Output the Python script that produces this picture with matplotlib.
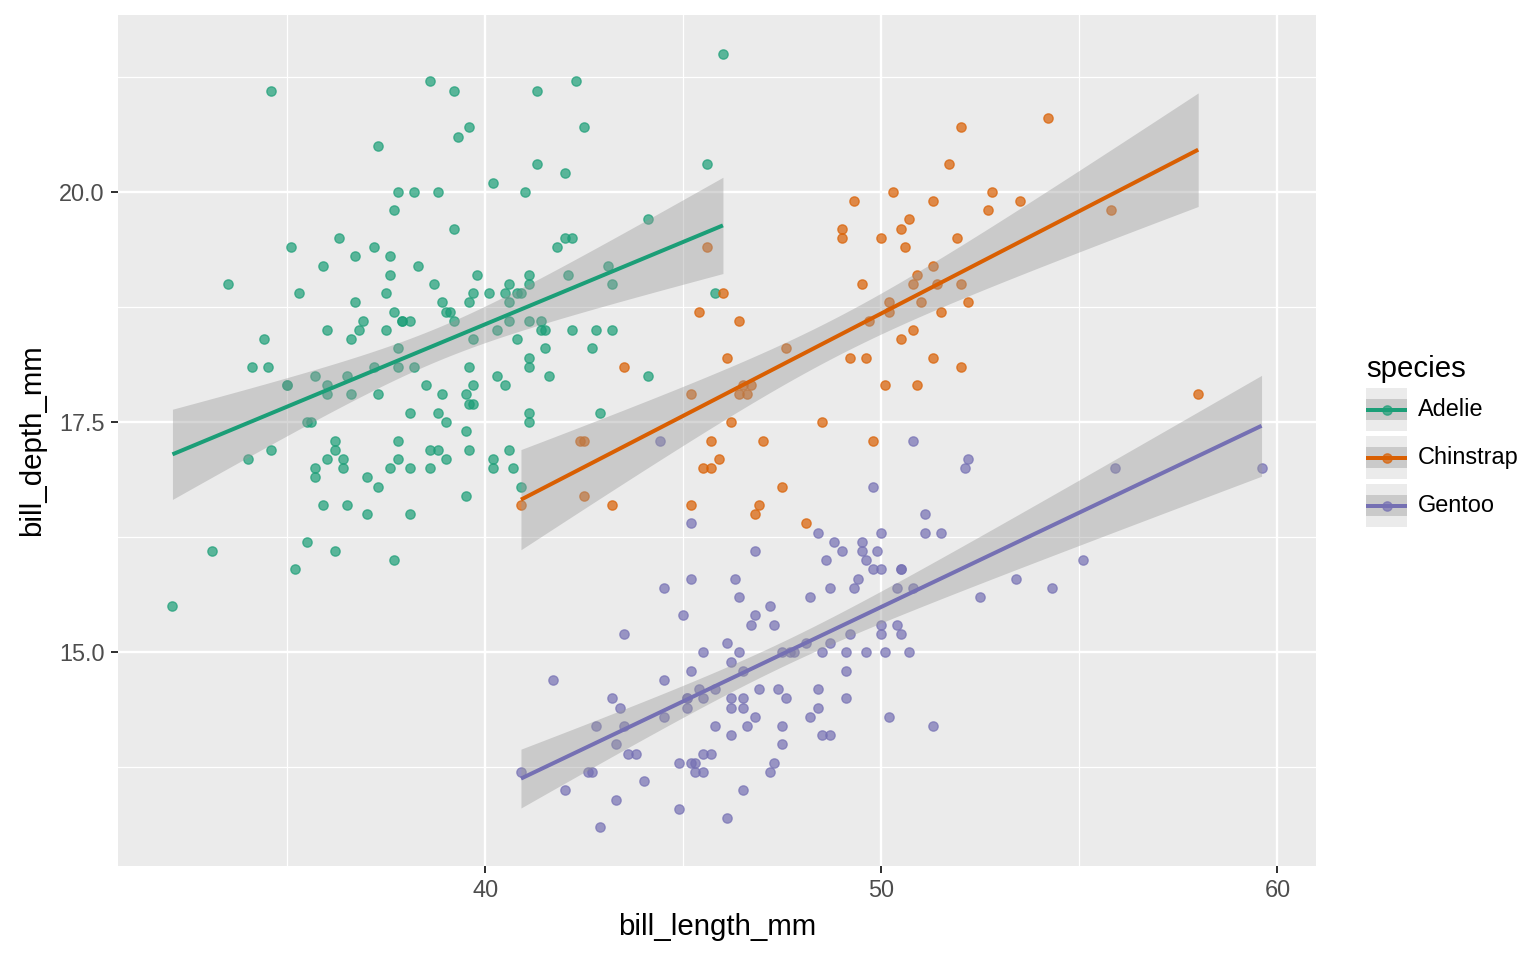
import numpy as np
import matplotlib
matplotlib.use("Agg")
import matplotlib.pyplot as plt
from matplotlib.patches import Rectangle
from matplotlib.lines import Line2D

plt.rcParams['font.family'] = ['Liberation Sans', 'DejaVu Sans']

species = ["Adelie", "Chinstrap", "Gentoo"]
colors = ["#1B9E77", "#D95F02", "#7570B3"]

adelie_len = [39.1,39.5,40.3,36.7,39.3,38.9,39.2,34.1,42.0,37.8,37.8,41.1,38.6,34.6,36.6,38.7,42.5,34.4,46.0,
              37.8,37.7,35.9,38.2,38.8,35.3,40.6,40.5,37.9,40.5,39.5,37.2,39.5,40.9,36.4,39.2,38.8,42.2,37.6,
              39.8,36.5,40.8,36.0,44.1,37.0,39.6,41.1,37.5,36.0,42.3,39.6,40.1,35.0,42.0,34.5,41.4,39.0,40.6,
              36.5,37.6,35.7,41.3,37.6,41.1,36.4,41.6,35.5,41.1,35.9,41.8,33.5,39.7,39.6,45.8,35.5,42.8,40.9,
              37.2,36.2,42.1,34.6,42.9,36.7,35.1,37.3,41.3,36.3,36.9,38.3,38.9,35.7,41.1,34.0,39.6,36.2,40.8,
              38.1,40.3,33.1,43.2,35.0,41.0,37.7,37.8,37.9,39.7,38.6,38.2,38.1,43.2,38.1,45.6,39.7,42.2,39.6,
              42.7,38.6,37.3,35.7,41.1,36.2,37.7,40.2,41.4,35.2,40.6,38.8,41.5,39.0,44.1,38.5,43.1,36.8,37.5,
              38.1,41.1,35.6,40.2,37.0,39.7,40.2,40.6,32.1,40.7,37.3,39.0,39.2,36.6,36.0,37.8,36.0,41.5]
adelie_dep = [18.7,17.4,18.0,19.3,20.6,17.8,19.6,18.1,20.2,17.1,17.3,17.6,21.2,21.1,17.8,19.0,20.7,18.4,21.5,
              18.3,18.7,19.2,18.1,17.2,18.9,18.6,17.9,18.6,18.9,16.7,18.1,17.8,18.9,17.0,21.1,20.0,18.5,19.3,
              19.1,18.0,18.4,18.5,19.7,16.9,18.8,19.0,18.9,17.9,21.2,17.7,18.9,17.9,19.5,18.1,18.6,17.5,18.8,
              16.6,19.1,16.9,21.1,17.0,18.2,17.1,18.0,16.2,19.1,16.6,19.4,19.0,18.4,17.2,18.9,17.5,18.5,16.8,
              19.4,16.1,19.1,17.2,17.6,18.8,19.4,17.8,20.3,19.5,18.6,19.2,18.8,18.0,18.1,17.1,18.1,17.3,18.9,
              18.6,18.5,16.1,18.5,17.9,20.0,16.0,20.0,18.6,18.9,17.2,20.0,17.0,19.0,16.5,20.3,17.7,19.5,20.7,
              18.3,17.0,20.5,17.0,18.6,17.2,19.8,17.0,18.5,15.9,19.0,17.6,18.3,17.1,18.0,17.9,19.2,18.5,18.5,
              17.6,17.5,17.5,20.1,16.5,17.9,17.1,17.2,15.5,17.0,16.8,18.7,18.6,18.4,17.8,18.1,17.1,18.5]

chinstrap_len = [46.5,50.0,51.3,45.4,52.7,45.2,46.1,51.3,46.0,51.3,46.6,51.7,47.0,52.0,45.9,50.5,50.3,58.0,
                 46.4,49.2,42.4,48.5,43.2,50.6,46.7,52.0,50.5,49.5,46.4,52.8,40.9,54.2,42.5,51.0,49.7,47.5,
                 47.6,52.0,46.9,53.5,49.0,46.2,50.9,45.5,50.9,50.8,50.1,49.0,51.5,49.8,48.1,51.4,45.7,50.7,
                 42.5,52.2,45.2,49.3,50.2,45.6,51.9,46.8,45.7,55.8,43.5,49.6,50.8,50.2]
chinstrap_dep = [17.9,19.5,19.2,18.7,19.8,17.8,18.2,18.2,18.9,19.9,17.8,20.3,17.3,18.1,17.1,19.6,20.0,17.8,
                 18.6,18.2,17.3,17.5,16.6,19.4,17.9,19.0,18.4,19.0,17.8,20.0,16.6,20.8,16.7,18.8,18.6,16.8,
                 18.3,20.7,16.6,19.9,19.5,17.5,19.1,17.0,17.9,18.5,17.9,19.6,18.7,17.3,16.4,19.0,17.3,19.7,
                 17.3,18.8,16.6,19.9,18.8,19.4,19.5,16.5,17.0,19.8,18.1,18.2,19.0,18.7]

gentoo_len = [46.1,50.0,48.7,50.0,47.6,46.5,45.4,46.7,43.3,46.8,40.9,49.0,45.5,48.4,45.8,49.3,42.0,49.2,46.2,
              48.7,50.2,45.1,46.5,46.3,42.9,46.1,44.5,47.8,48.2,50.0,47.3,42.8,45.1,59.6,49.1,48.4,42.6,44.4,
              44.0,48.7,42.7,49.6,45.3,49.6,50.5,43.6,45.5,50.5,44.9,45.2,46.6,48.5,45.1,50.1,46.5,45.0,43.8,
              45.5,43.2,50.4,45.3,46.2,45.7,54.3,45.8,49.8,46.2,49.5,43.5,50.7,47.7,46.4,48.2,46.5,46.4,48.6,
              47.5,51.1,45.2,45.2,49.1,52.5,47.4,50.0,44.9,50.8,43.4,51.3,47.5,52.1,47.5,52.2,45.5,49.5,44.5,
              50.8,49.4,46.9,48.4,51.1,48.5,55.9,47.2,49.1,47.3,46.8,41.7,53.4,43.3,48.1,50.5,49.8,43.5,51.5,
              46.2,55.1,44.5,48.8,47.2,46.8,50.4,45.2,49.9]
gentoo_dep = [13.2,16.3,14.1,15.2,14.5,13.5,14.6,15.3,13.4,15.4,13.7,16.1,13.7,14.6,14.6,15.7,13.5,15.2,14.5,
              15.1,14.3,14.5,14.5,15.8,13.1,15.1,14.3,15.0,14.3,15.3,15.3,14.2,14.5,17.0,14.8,16.3,13.7,17.3,
              13.6,15.7,13.7,16.0,13.7,15.0,15.9,13.9,13.9,15.9,13.3,15.8,14.2,14.1,14.4,15.0,14.4,15.4,13.9,
              15.0,14.5,15.3,13.8,14.9,13.9,15.7,14.2,16.8,14.4,16.2,14.2,15.0,15.0,15.6,15.6,14.8,15.0,16.0,
              14.2,16.3,13.8,16.4,14.5,15.6,14.6,15.9,13.8,17.3,14.4,14.2,14.0,17.0,15.0,17.1,14.5,16.1,14.7,
              15.7,15.8,14.6,14.4,16.5,15.0,17.0,15.5,15.0,13.8,16.1,14.7,15.8,14.0,15.1,15.2,15.9,15.2,16.3,
              14.1,16.0,15.7,16.2,13.7,14.3,15.7,14.8,16.1]

data_x = [adelie_len, chinstrap_len, gentoo_len]
data_y = [adelie_dep, chinstrap_dep, gentoo_dep]

x_ticks = [40, 50, 60]
y_ticks = [15.0, 17.5, 20.0]
y_ticklabels = ["15.0", "17.5", "20.0"]


def t_quantile(df, z=1.959963985):
    # Cornish-Fisher expansion of the Student t quantile
    return (z + (z**3 + z) / (4 * df) + (5 * z**5 + 16 * z**3 + 3 * z) / (96 * df**2)
            + (3 * z**7 + 19 * z**5 + 17 * z**3 - 15 * z) / (384 * df**3))


W, H = 1536, 960
fig = plt.figure(figsize=(8, 5), dpi=192)
ax = fig.add_axes([118 / W, 1 - 866 / H, (1316 - 118) / W, (866 - 15) / H])
ax.set_facecolor("#EBEBEB")

allx = np.concatenate([np.array(v) for v in data_x])
ally = np.concatenate([np.array(v) for v in data_y])
xr = allx.max() - allx.min()
yr = ally.max() - ally.min()
ax.set_xlim(allx.min() - 0.05 * xr, allx.max() + 0.05 * xr)
ax.set_ylim(ally.min() - 0.05 * yr, ally.max() + 0.05 * yr)

# grid
for v in [35, 45, 55]:
    ax.axvline(v, color="white", lw=0.45, zorder=0.5)
for v in [13.75, 16.25, 18.75, 21.25]:
    ax.axhline(v, color="white", lw=0.45, zorder=0.5)
for v in x_ticks:
    ax.axvline(v, color="white", lw=0.9, zorder=0.6)
for v in y_ticks:
    ax.axhline(v, color="white", lw=0.9, zorder=0.6)

for xs, ys, c in zip(data_x, data_y, colors):
    ax.scatter(xs, ys, s=3.5**2, color=c, alpha=0.7, linewidths=0.5, edgecolors=c, zorder=2)

for xs, ys, c in zip(data_x, data_y, colors):
    x = np.array(xs); y = np.array(ys)
    n = len(x)
    b, a = np.polyfit(x, y, 1)
    resid = y - (a + b * x)
    s = np.sqrt(np.sum(resid**2) / (n - 2))
    xm = x.mean(); sxx = np.sum((x - xm)**2)
    grid = np.linspace(x.min(), x.max(), 80)
    fit = a + b * grid
    se = s * np.sqrt(1 / n + (grid - xm)**2 / sxx)
    t = t_quantile(n - 2)
    ax.fill_between(grid, fit - t * se, fit + t * se, color="#999999", alpha=0.4, lw=0, zorder=3)
    ax.plot(grid, fit, color=c, lw=1.5, zorder=4, solid_capstyle="butt")

for sp in ax.spines.values():
    sp.set_visible(False)
ax.set_xticks(x_ticks)
ax.set_xticklabels([str(v) for v in x_ticks])
ax.set_yticks(y_ticks)
ax.set_yticklabels(y_ticklabels)
ax.tick_params(axis="both", length=2.75, width=0.75, color="#333333", labelcolor="#4D4D4D",
               labelsize=8.8, pad=2.2)
ax.set_xlabel("bill_length_mm", fontsize=11, color="black", labelpad=4)
ax.set_ylabel("bill_depth_mm", fontsize=11, color="black", labelpad=5)

# legend
fig.text(1366 / W, 1 - 369 / H, "species", fontsize=11, ha="left", va="center")
key_tops = [388, 436, 484]
kw, kh = 41, 43
for sp, c, kt in zip(species, colors, key_tops):
    fig.patches.append(Rectangle((1366 / W, 1 - (kt + kh) / H), kw / W, kh / H,
                                 transform=fig.transFigure, facecolor="#EBEBEB", edgecolor="none"))
    fig.patches.append(Rectangle((1366 / W, 1 - (kt + 32) / H), kw / W, 21 / H,
                                 transform=fig.transFigure, facecolor="#999999", alpha=0.4,
                                 edgecolor="none"))
    yc = 1 - (kt + kh / 2) / H
    fig.lines.append(Line2D([1366 / W, (1366 + kw) / W], [yc, yc], transform=fig.transFigure,
                            color=c, lw=1.5, solid_capstyle="butt"))
    fig.lines.append(Line2D([(1366 + kw / 2) / W], [yc], transform=fig.transFigure, marker="o",
                            markersize=3.5, markeredgewidth=0.5, color=c, alpha=0.7,
                            linestyle="none"))
    fig.text(1418 / W, yc, sp, fontsize=8.8, ha="left", va="center")

fig.savefig("out.png", dpi=192)
